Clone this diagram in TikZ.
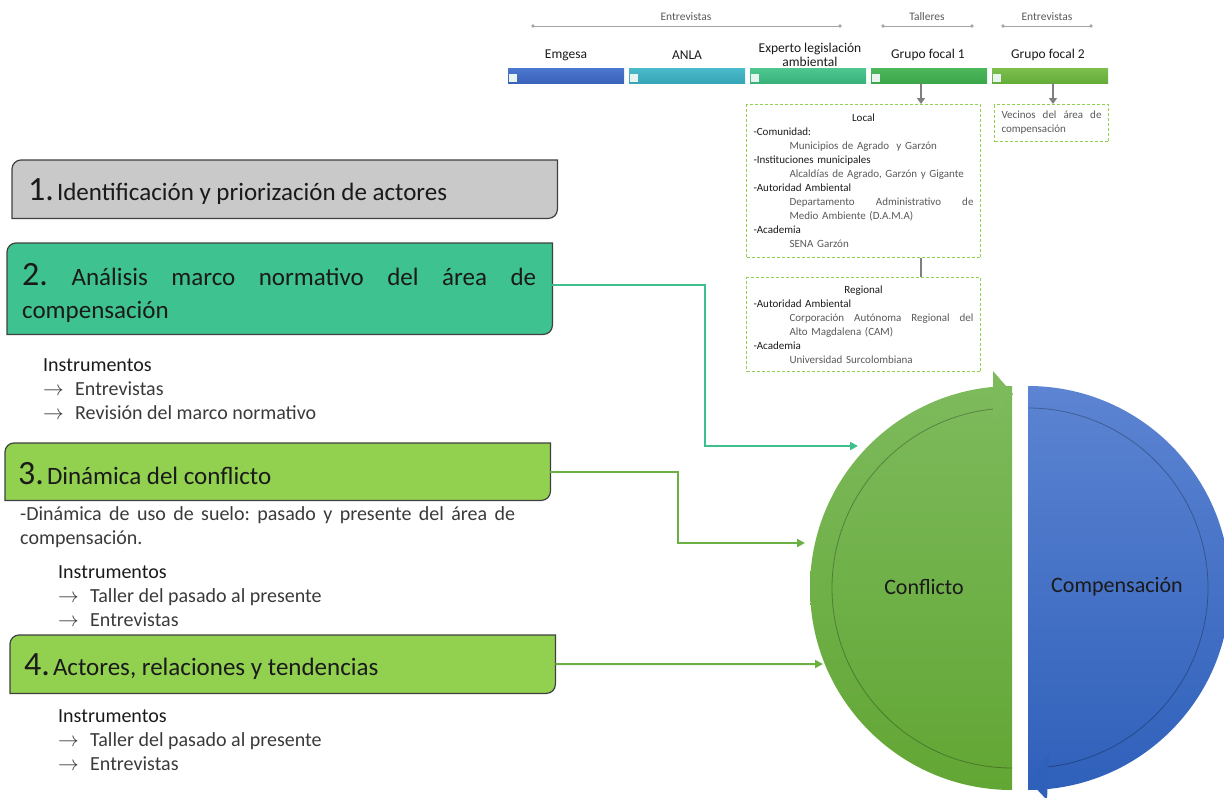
\documentclass[tikz,border=0pt]{standalone}
\usepackage{fontspec}
\setmainfont{Carlito}
\usetikzlibrary{arrows.meta,calc}
\pgfdeclarelayer{background}
\pgfsetlayers{background,main}

\definecolor{boxedge}{HTML}{404040}
\definecolor{grayfill}{HTML}{C9C9C9}
\definecolor{tealfill}{HTML}{3EC28F}
\definecolor{limefill}{HTML}{92D050}
\definecolor{tealline}{HTML}{3DC08E}
\definecolor{greenline}{HTML}{6AB043}
\definecolor{txt}{HTML}{1A1A1A}
\definecolor{itemgray}{HTML}{595959}
\definecolor{listgray}{HTML}{3A3A3A}
\definecolor{tlgray}{HTML}{A6A6A6}
\definecolor{arrowgray}{HTML}{7F7F7F}
\definecolor{dashgreen}{HTML}{92D050}
\definecolor{barBlueT}{HTML}{4C78D0}\definecolor{barBlueB}{HTML}{3A62B8}
\definecolor{barTealT}{HTML}{4ABBCB}\definecolor{barTealB}{HTML}{36A6B6}
\definecolor{barMintT}{HTML}{4FC690}\definecolor{barMintB}{HTML}{38B27A}
\definecolor{barGrnT}{HTML}{4DB75B}\definecolor{barGrnB}{HTML}{3CA64A}
\definecolor{barOlvT}{HTML}{7DBF4E}\definecolor{barOlvB}{HTML}{64AC39}
\definecolor{gTop}{HTML}{7DBA5C}\definecolor{gBot}{HTML}{62A634}
\definecolor{bTop}{HTML}{5C84D2}\definecolor{bBot}{HTML}{2F60BA}
\definecolor{sqfill}{HTML}{E8F4F0}

\newcommand\dgNum{\fontsize{34}{36}\selectfont}
\newcommand\dgTitle{\fontsize{25}{33}\selectfont}
\newcommand\dgList{\fontsize{20}{24}\selectfont}
\newcommand\dgSmall{\fontsize{11}{14}\selectfont}
\newcommand\dgArrow{\makebox[32pt][l]{$\rightarrow$}}
\newcommand\dgSub[1]{{\leftskip=36pt\color{itemgray}#1\par}}
% box with rounded top-left and bottom-right corners, drawn behind a node
\newcommand\dgCutBox[2]{%
  \path[#2] (#1.south west) -- ([yshift=-9pt]#1.north west)
    arc[start angle=180,end angle=90,radius=9pt] -- (#1.north east)
    -- ([yshift=9pt]#1.south east)
    arc[start angle=0,end angle=-90,radius=9pt] -- cycle;}

\begin{document}
\frenchspacing
\hyphenpenalty=10000
\exhyphenpenalty=10000
\begin{tikzpicture}[x=1pt,y=-1pt,
  tl/.style={draw=tlgray,line width=0.9pt},
  tllab/.style={font=\fontsize{11.5}{13}\selectfont,text=itemgray,inner sep=0pt},
  bar/.style={anchor=north west,minimum width=116pt,minimum height=15pt,inner sep=0pt},
  barlab/.style={font=\fontsize{13.5}{14}\selectfont,text=txt,align=center,inner sep=0pt},
  sq/.style={fill=sqfill},
  dbox/.style={draw=dashgreen,line width=1pt,dash pattern=on 3pt off 2pt,anchor=north west,
    inner xsep=7pt,inner ysep=0pt,font=\dgSmall,text=txt},
  gar/.style={draw=arrowgray,line width=2pt,-{Triangle[length=6pt,width=8pt]}},
  gline/.style={draw=arrowgray,line width=2pt},
  stepbox/.style={anchor=north west,inner sep=0pt,minimum width=545pt},
  steptext/.style={anchor=base west,inner sep=0pt,text=txt,font=\dgTitle},
  shapeedge/.style={draw=boxedge,line width=1.2pt},
  boxshadow/.style={fill=black,fill opacity=0.22,xshift=1.5pt,yshift=-2pt},
  lst/.style={anchor=base west,inner sep=0pt,font=\dgList,text=listgray},
  lsthead/.style={anchor=base west,inner sep=0pt,font=\dgList,text=txt},
  conn/.style={line width=2pt,-{Triangle[length=8pt,width=8pt]}},
  circtext/.style={font=\fontsize{22}{24}\selectfont,text=txt,inner sep=0pt},
  innerline/.style={draw=black,draw opacity=0.28,line width=0.8pt}
]
\path[use as bounding box] (0,0) rectangle (1224,798);
\clip (0,0) rectangle (1224,798);

% ---------- interview / workshop timelines ----------
\coordinate (t1a) at (533,26); \coordinate (t1b) at (840,26);
\coordinate (t2a) at (883,26); \coordinate (t2b) at (972,26);
\coordinate (t3a) at (1003,26); \coordinate (t3b) at (1091,26);
\draw[tl] (t1a) -- (t1b);
\draw[tl] (t2a) -- (t2b);
\draw[tl] (t3a) -- (t3b);
\foreach \p in {t1a,t1b,t2a,t2b,t3a,t3b} \fill[tlgray] (\p) circle (1.9pt);
\node[tllab] (tlab1) at (686,17) {Entrevistas};
\node[tllab] (tlab2) at (927,17) {Talleres};
\node[tllab] (tlab3) at (1047,17) {Entrevistas};

% ---------- participant bars ----------
\node[bar,top color=barBlueT,bottom color=barBlueB] (emg) at (508,68) {};
\node[bar,top color=barTealT,bottom color=barTealB] (anla) at (629,68) {};
\node[bar,top color=barMintT,bottom color=barMintB] (exp) at (750,68) {};
\node[bar,top color=barGrnT,bottom color=barGrnB] (gf1) at (871,68) {};
\node[bar,top color=barOlvT,bottom color=barOlvB] (gf2) at (992,68) {};
\foreach \b in {emg,anla,exp,gf1,gf2}
  \fill[sq] ([xshift=1pt,yshift=1.5pt]\b.south west) rectangle ++(8,-8);

\node[barlab] (lemg) at (566,55) {Emgesa};
\node[barlab] (lanla) at (687,55) {ANLA};
\node[barlab] (lexp) at (810,55) {Experto legislación\\ambiental};
\node[barlab] (lgf1) at (928,55) {Grupo focal 1};
\node[barlab] (lgf2) at (1048,55) {Grupo focal 2};

% ---------- actor boxes ----------
\node[dbox,minimum width=234pt,minimum height=153pt,text width=220pt] (local) at (746,104) {%
  {\centering Local\par}
  -Comunidad:\par
  \dgSub{Municipios de Agrado\ \ y Garzón}
  -Instituciones municipales\par
  \dgSub{Alcaldías de Agrado, Garzón y Gigante}
  -Autoridad Ambiental\par
  \dgSub{Departamento\hfill Administrativo\hfill de\par Medio Ambiente (D.A.M.A)}
  -Academia\par
  \dgSub{SENA Garzón}};

\node[dbox,minimum width=234pt,minimum height=94pt,text width=220pt] (reg) at (746,277) {%
  {\centering Regional\par}
  -Autoridad Ambiental\par
  \dgSub{Corporación\hfill Autónoma\hfill Regional\hfill del\par Alto Magdalena (CAM)}
  -Academia\par
  \dgSub{Universidad Surcolombiana}};

\node[dbox,minimum width=114pt,minimum height=37pt,text width=100pt,text=itemgray] (vec) at (994,104) {%
  Vecinos\hfill del\hfill área\hfill de\par compensación};

\coordinate (p1) at (921,104);
\coordinate (p2) at (1053,104);
\draw[gar] (gf1.south -| p1) -- (local.north -| p1);
\draw[gar] (gf2.south -| p2) -- (vec.north -| p2);
\draw[gline] (local.south -| p1) -- (reg.north -| p1);

% ---------- method steps ----------
\node[stepbox,minimum height=58pt] (b1) at (12,160) {};
\node[stepbox,minimum height=91pt] (b2) at (7,243) {};
\node[stepbox,minimum height=57pt] (b3) at (5,443) {};
\node[stepbox,minimum height=58pt] (b4) at (10,635) {};

\begin{pgfonlayer}{background}
  \foreach \b in {b1,b2,b3,b4} {\dgCutBox{\b}{boxshadow}}
  \dgCutBox{b1}{fill=grayfill,shapeedge}
  \dgCutBox{b2}{fill=tealfill,shapeedge}
  \dgCutBox{b3}{fill=limefill,shapeedge}
  \dgCutBox{b4}{fill=limefill,shapeedge}
\end{pgfonlayer}

\node[steptext] (b1t) at (28,200) {{\dgNum 1.}\hspace{3pt}Identificación y priorización de actores};
\node[steptext] (b2t) at (22,285) {\makebox[514pt]{{\dgNum 2.}\hfill Análisis\hfill marco\hfill normativo\hfill del\hfill área\hfill de}};
\node[steptext] (b2u) at (22,318) {compensación};
\node[steptext] (b3t) at (18,484) {{\dgNum 3.}\hspace{3pt}Dinámica del conflicto};
\node[steptext] (b4t) at (24,675) {{\dgNum 4.}\hspace{3pt}Actores, relaciones y tendencias};

% instruments of step 2
\node[lsthead] (ins2) at (43,371) {Instrumentos};
\node[lst] (ins2a) at (43,395) {\dgArrow Entrevistas};
\node[lst] (ins2b) at (43,419) {\dgArrow Revisión del marco normativo};

% description and instruments of step 3
\node[lst] (desc3a) at (20,520) {\makebox[495pt][s]{-Dinámica de uso de suelo: pasado y presente del área de}};
\node[lst] (desc3b) at (20,544) {compensación.};
\node[lsthead] (ins3) at (58,578) {Instrumentos};
\node[lst] (ins3a) at (58,602) {\dgArrow Taller del pasado al presente};
\node[lst] (ins3b) at (58,626) {\dgArrow Entrevistas};

% instruments of step 4
\node[lsthead] (ins4) at (58,722) {Instrumentos};
\node[lst] (ins4a) at (58,746) {\dgArrow Taller del pasado al presente};
\node[lst] (ins4b) at (58,770) {\dgArrow Entrevistas};

% ---------- conflict / compensation cycle ----------
\shade[top color=gTop,bottom color=gBot] (1012,386) arc[start angle=90,end angle=270,radius=202pt] -- cycle;
\draw[innerline] (1012,768) arc[start angle=270,end angle=96,radius=180pt];
\fill[gTop] (993,371) -- (1013,394) -- (993,421) -- cycle;

\shade[top color=bTop,bottom color=bBot] (1028,386) arc[start angle=90,end angle=-90,radius=202pt] -- cycle;
\draw[innerline] (1028,408) arc[start angle=90,end angle=-84,radius=180pt];
\fill[bBot] (1049,754) -- (1029,781) -- (1047,800) -- cycle;

\node[circtext] (conf) at (924,587) {Conflicto};
\node[circtext] (comp) at (1117,587) {Compensación};

% ---------- connectors from the steps ----------
\coordinate (e2) at (858,446);
\coordinate (e3) at (805,543);
\coordinate (e4) at (823,664);
\draw[conn,draw=tealline,color=tealline] ([yshift=4pt]b2.east) -- ++(153,0) |- (e2);
\draw[conn,draw=greenline,color=greenline] (b3.east) -- ++(128,0) |- (e3);
\draw[conn,draw=greenline,color=greenline] (b4.east) -- (e4);
\end{tikzpicture}
\end{document}
